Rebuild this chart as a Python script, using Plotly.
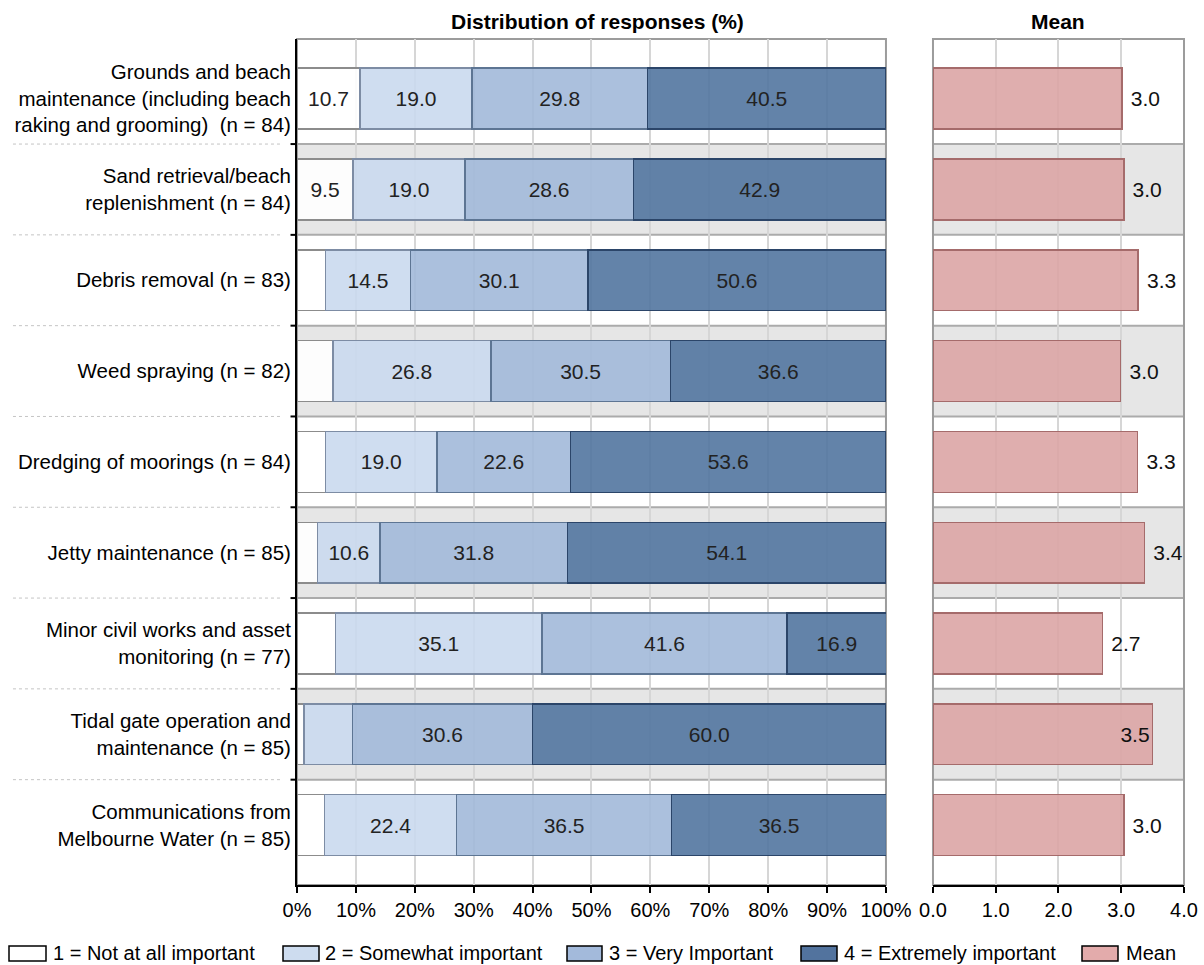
import plotly.graph_objects as go

# ---------------- data ----------------
categories = [
    "Grounds and beach<br>maintenance (including beach<br>raking and grooming)  (n = 84)",
    "Sand retrieval/beach<br>replenishment (n = 84)",
    "Debris removal (n = 83)",
    "Weed spraying (n = 82)",
    "Dredging of moorings (n = 84)",
    "Jetty maintenance (n = 85)",
    "Minor civil works and asset<br>monitoring (n = 77)",
    "Tidal gate operation and<br>maintenance (n = 85)",
    "Communications from<br>Melbourne Water (n = 85)",
]
not_at_all = [10.7, 9.5, 4.8, 6.1, 4.8, 3.5, 6.5, 1.2, 4.7]
somewhat = [19.0, 19.0, 14.5, 26.8, 19.0, 10.6, 35.1, 8.2, 22.4]
very = [29.8, 28.6, 30.1, 30.5, 22.6, 31.8, 41.6, 30.6, 36.5]
extremely = [40.5, 42.9, 50.6, 36.6, 53.6, 54.1, 16.9, 60.0, 36.5]
means = [3.01, 3.04, 3.27, 2.99, 3.26, 3.37, 2.70, 3.50, 3.04]

level_names = ["1 = Not at all important", "2 = Somewhat important",
               "3 = Very Important", "4 = Extremely important"]
pct_ticks = list(range(0, 101, 10))
mean_ticks = [0, 1, 2, 3, 4]

# ---------------- styles ----------------
FONT = "Liberation Sans, Arial, sans-serif"
fills = ["rgba(255,255,255,0.9)", "rgba(202,217,238,0.9)",
         "rgba(162,185,217,0.9)", "rgba(82,117,160,0.9)"]
borders = ["#8c8c8c", "#7d8ca4", "#5d7593", "#2b4569"]
swatch_fill = ["#ffffff", "#cddcef", "#a3badb", "#52739e", "#e3abab"]
mean_fill = "rgba(220,165,165,0.9)"
mean_border = "#a56b6b"

fig = go.Figure()

series = [not_at_all, somewhat, very, extremely]
for k, vals in enumerate(series):
    fig.add_trace(go.Bar(
        y=categories, x=vals, orientation="h", name=level_names[k],
        xaxis="x", yaxis="y",
        marker=dict(color=fills[k], line=dict(color=borders[k], width=1.5)),
        text=[f"{v:.1f}" if v >= 9 else "" for v in vals],
        textposition="inside", insidetextanchor="middle",
        textfont=dict(family=FONT, size=21, color="#222222"),
        hoverinfo="skip", showlegend=False,
    ))

mean_pos = ["inside" if m >= 3.45 else "outside" for m in means]
mean_text = [f"{m:.1f}" if p == "inside" else f"\u00a0{m:.1f}"
             for m, p in zip(means, mean_pos)]
fig.add_trace(go.Bar(
    y=categories, x=means, orientation="h", name="Mean",
    xaxis="x2", yaxis="y2",
    marker=dict(color=mean_fill, line=dict(color=mean_border, width=1.5)),
    text=mean_text, textposition=mean_pos,
    insidetextanchor="end", cliponaxis=False,
    textfont=dict(family=FONT, size=21, color="#111111"),
    hoverinfo="skip", showlegend=False,
))

n = len(categories)
shapes = []
# alternating bands
for i in range(n):
    if i % 2 == 1:
        for xr, yr in (("x domain", "y"), ("x2 domain", "y2")):
            shapes.append(dict(type="rect", xref=xr, yref=yr, x0=0, x1=1,
                               y0=i - 0.5, y1=i + 0.5, fillcolor="#e6e6e6",
                               line=dict(width=0), layer="below"))
# row boundary lines, ticks, dotted separators
for i in range(n - 1):
    b = i + 0.5
    for xr, yr in (("x domain", "y"), ("x2 domain", "y2")):
        shapes.append(dict(type="line", xref=xr, yref=yr, x0=0, x1=1, y0=b, y1=b,
                           line=dict(color="#ababab", width=2), layer="below"))
    shapes.append(dict(type="line", xref="x domain", yref="y", x0=-0.011, x1=0,
                       y0=b, y1=b, line=dict(color="black", width=2), layer="above"))
    shapes.append(dict(type="line", xref="paper", yref="y", x0=-0.3202, x1=-0.0158,
                       y0=b, y1=b, line=dict(color="#c4c4c4", width=1, dash="dot"),
                       layer="above"))
# panel borders
for xr, yr in (("x domain", "y domain"), ("x2 domain", "y2 domain")):
    shapes.append(dict(type="rect", xref=xr, yref=yr, x0=0, x1=1, y0=0, y1=1,
                       line=dict(color="#9c9c9c", width=2), layer="below"))

# custom legend
PLOT_L, PLOT_W, PLOT_B, PLOT_H = 297, 887, 885, 846
def px_x(p):
    return (p - PLOT_L) / PLOT_W
def px_y(p):
    return (PLOT_B - p) / PLOT_H

legend_labels = level_names + ["Mean"]
legend_swatch_x = [(9, 46), (283, 319), (567, 602), (801, 837), (1082, 1118)]
legend_text_x = [51, 323, 607, 842, 1124]
annotations = []
for k, lab in enumerate(legend_labels):
    x0, x1 = legend_swatch_x[k]
    shapes.append(dict(type="rect", xref="paper", yref="paper",
                       x0=px_x(x0), x1=px_x(x1), y0=px_y(961), y1=px_y(946),
                       fillcolor=swatch_fill[k], line=dict(color="black", width=1.5),
                       layer="above"))
    annotations.append(dict(xref="paper", yref="paper", x=px_x(legend_text_x[k]),
                            y=px_y(953), xanchor="left", yanchor="middle",
                            text=lab, showarrow=False,
                            font=dict(family=FONT, size=20, color="black")))

annotations.append(dict(xref="x domain", yref="paper", x=0.51, y=px_y(21),
                        xanchor="center", yanchor="middle",
                        text="<b>Distribution of responses (%)</b>", showarrow=False,
                        font=dict(family=FONT, size=21, color="black")))
annotations.append(dict(xref="x2 domain", yref="paper", x=0.5, y=px_y(21),
                        xanchor="center", yanchor="middle", text="<b>Mean</b>",
                        showarrow=False, font=dict(family=FONT, size=21, color="black")))

axis_common = dict(showgrid=True, gridcolor="#d6d6d6", gridwidth=2, zeroline=False,
                   showline=True, linecolor="black", linewidth=2, automargin=False,
                   ticks="outside", ticklen=6, tickwidth=2, tickcolor="black",
                   tickfont=dict(family=FONT, size=20, color="black"))

fig.update_layout(
    width=1204, height=965, autosize=False,
    margin=dict(l=297, r=20, t=39, b=80, autoexpand=False),
    paper_bgcolor="white", plot_bgcolor="rgba(0,0,0,0)",
    barmode="stack", bargap=0.33,
    font=dict(family=FONT, size=20, color="black"),
    xaxis=dict(domain=[0, 0.664], range=[0, 100], tickvals=pct_ticks,
               ticktext=[f"{t}%" for t in pct_ticks], anchor="y", **axis_common),
    xaxis2=dict(domain=[0.717, 1], range=[0, 4], tickvals=mean_ticks,
                ticktext=[f"{t:.1f}" for t in mean_ticks], anchor="y2", **axis_common),
    yaxis=dict(type="category", categoryorder="array", categoryarray=categories,
               range=[8.66, -0.657], showgrid=False, zeroline=False, ticks="",
               showline=True, linecolor="black", linewidth=2, anchor="x",
               ticklabelstandoff=0, automargin=False,
               tickfont=dict(family=FONT, size=20.5, color="black")),
    yaxis2=dict(type="category", categoryorder="array", categoryarray=categories,
                range=[8.66, -0.657], showgrid=False, zeroline=False, ticks="",
                showline=False, showticklabels=False, anchor="x2", automargin=False),
    shapes=shapes, annotations=annotations, showlegend=False,
)

fig.write_html("out.html",
               config={"displayModeBar": False, "responsive": False},
               post_script="document.body.style.margin='0px';"
                           "document.body.style.overflow='hidden';")
